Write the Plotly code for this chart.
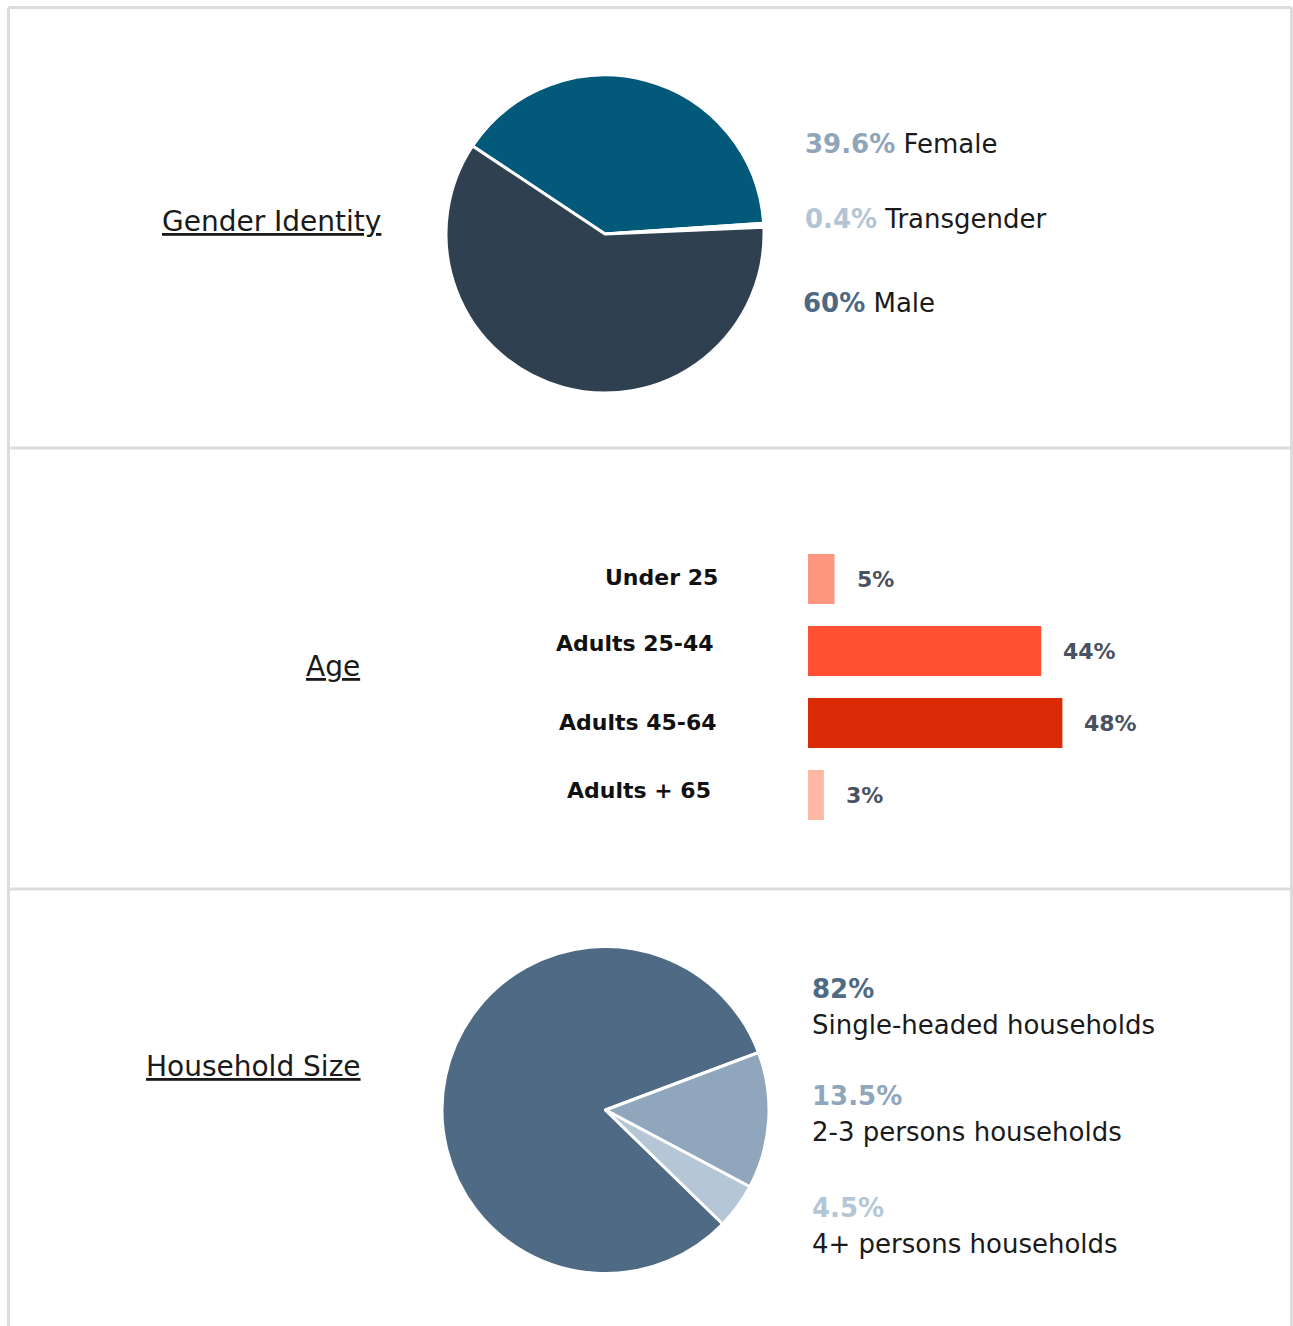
import plotly.graph_objects as go

W, H = 1293, 1326

# ---------------- data ----------------
gender_labels = ["Female", "Transgender", "Male"]
gender_values = [39.6, 0.4, 60]
gender_pct_text = ["39.6%", "0.4%", "60%"]
gender_colors = ["#02597a", "#ffffff", "#2f4050"]
gender_pct_colors = ["#8ea5ba", "#b3c5d4", "#4d6883"]

age_labels = ["Under 25", "Adults 25-44", "Adults 45-64", "Adults + 65"]
age_values = [5, 44, 48, 3]
age_value_text = ["5%", "44%", "48%", "3%"]
age_colors = ["#ff967f", "#ff5131", "#da2a06", "#ffb7a6"]

household_labels = ["Single-headed households", "2-3 persons households", "4+ persons households"]
household_values = [82, 13.5, 4.5]
household_pct_text = ["82%", "13.5%", "4.5%"]
household_colors = ["#4e6a84", "#8fa6bc", "#b5c7d6"]
household_pct_colors = ["#4e6a84", "#8fa6bc", "#b5c7d6"]

FONT = "DejaVu Sans"
TEXT = "#1a1a1a"


def px(x):
    return x / W


def py(y):
    return 1 - y / H


fig = go.Figure()

# Gender pie
fig.add_trace(go.Pie(
    labels=gender_labels, values=gender_values, sort=False,
    direction="clockwise", rotation=-56.4,
    marker=dict(colors=gender_colors, line=dict(color="white", width=3)),
    textinfo="none", hoverinfo="label+percent", showlegend=False,
    domain=dict(x=[px(446), px(764)], y=[py(393), py(75)]),
))

# Household pie
fig.add_trace(go.Pie(
    labels=household_labels, values=household_values, sort=False,
    direction="clockwise", rotation=134.2,
    marker=dict(colors=household_colors, line=dict(color="white", width=3)),
    textinfo="none", hoverinfo="label+percent", showlegend=False,
    domain=dict(x=[px(442), px(769)], y=[py(1274), py(946)]),
))

# Age bars
fig.add_trace(go.Bar(
    y=age_labels, x=age_values, orientation="h",
    marker=dict(color=age_colors, line=dict(width=0)),
    width=0.694, showlegend=False, hoverinfo="y+x",
))

fig.update_layout(
    width=W, height=H,
    margin=dict(l=0, r=0, t=0, b=0),
    paper_bgcolor="white", plot_bgcolor="white",
    font=dict(family=FONT, color=TEXT),
    xaxis=dict(domain=[px(808), px(808 + 5.3 * 60)], range=[0, 60],
               visible=False, fixedrange=True),
    yaxis=dict(domain=[py(831), py(543)], type="category",
               categoryorder="array", categoryarray=age_labels,
               range=[3.5, -0.5], visible=False, fixedrange=True),
)

# Panel borders
border = dict(color="#dcdcdc", width=3)
shapes = [
    dict(type="line", xref="paper", yref="paper", x0=px(8.5), x1=px(1291.5), y0=py(7.5), y1=py(7.5), line=border),
    dict(type="line", xref="paper", yref="paper", x0=px(8.5), x1=px(8.5), y0=py(7.5), y1=py(1330), line=border),
    dict(type="line", xref="paper", yref="paper", x0=px(1291.5), x1=px(1291.5), y0=py(7.5), y1=py(1330), line=border),
    dict(type="line", xref="paper", yref="paper", x0=px(8.5), x1=px(1291.5), y0=py(448), y1=py(448), line=border),
    dict(type="line", xref="paper", yref="paper", x0=px(8.5), x1=px(1291.5), y0=py(889), y1=py(889), line=border),
]
fig.update_layout(shapes=shapes)

ann = []

# Section titles
for title, cx, cy in [("Gender Identity", 271.5, 222), ("Age", 332.5, 666), ("Household Size", 253, 1066)]:
    ann.append(dict(text=f"<u>{title}</u>", x=px(cx), y=py(cy), xref="paper", yref="paper",
                    xanchor="center", yanchor="middle", showarrow=False,
                    font=dict(family=FONT, size=28, color=TEXT)))

# Gender legend
for lbl, pct, col, yy, xx in zip(gender_labels, gender_pct_text, gender_pct_colors,
                                 [144, 219, 303], [803, 803, 801]):
    ann.append(dict(text=f"<b><span style='color:{col}'>{pct}</span></b> {lbl}",
                    x=px(xx), y=py(yy), xref="paper", yref="paper",
                    xanchor="left", yanchor="middle", showarrow=False,
                    font=dict(family=FONT, size=26, color=TEXT)))

# Age category labels and values
for lbl, val, vt, rx, dy in zip(age_labels, age_values, age_value_text,
                                [720, 716, 719, 713], [-2, -8, -1, -5]):
    ann.append(dict(text=f"<b>{lbl}</b>", x=px(rx), y=lbl, xref="paper", yref="y",
                    xanchor="right", yanchor="middle", yshift=-dy, showarrow=False,
                    font=dict(family=FONT, size=22, color="#111111")))
    ann.append(dict(text=f"<b>{vt}</b>", x=val, y=lbl, xref="x", yref="y",
                    xanchor="left", yanchor="middle", xshift=20, showarrow=False,
                    font=dict(family=FONT, size=22, color="#4a5261")))

# Household legend
for lbl, pct, col, yp, yl in zip(household_labels, household_pct_text, household_pct_colors,
                                 [989, 1096, 1208], [1025, 1132, 1244]):
    ann.append(dict(text=f"<b>{pct}</b>", x=px(810), y=py(yp), xref="paper", yref="paper",
                    xanchor="left", yanchor="middle", showarrow=False,
                    font=dict(family=FONT, size=26, color=col)))
    ann.append(dict(text=lbl, x=px(810), y=py(yl), xref="paper", yref="paper",
                    xanchor="left", yanchor="middle", showarrow=False,
                    font=dict(family=FONT, size=26, color=TEXT)))

fig.update_layout(annotations=ann)

fig.write_html("out.html", config={"displayModeBar": False},
               post_script="document.body.style.margin='0';document.body.style.overflow='hidden';")
